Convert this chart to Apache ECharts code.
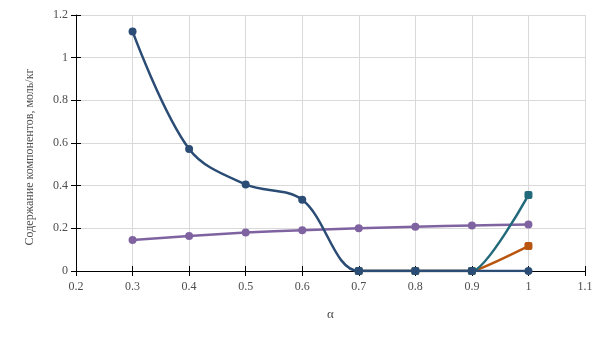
<!DOCTYPE html>
<html>
<head>
<meta charset="utf-8">
<script src="https://cdn.jsdelivr.net/npm/echarts@6/dist/echarts.min.js"></script>
<style>html,body{margin:0;padding:0;background:#fff}#c{width:605px;height:340px}</style>
</head>
<body>
<div id="c"></div>
<script>
var alphaAll = [0.3, 0.4, 0.5, 0.6, 0.7, 0.8, 0.9, 1.0];
var darkValues = [1.123, 0.572, 0.406, 0.334, 0, 0, 0, 0];
var purpleValues = [0.145, 0.164, 0.18, 0.191, 0.2, 0.208, 0.213, 0.218];
var alphaTail = [0.7, 0.8, 0.9, 1.0];
var tealValues = [0, 0, 0, 0.356];
var orangeValues = [0, 0, 0, 0.117];
var xTicks = [0.2, 0.3, 0.4, 0.5, 0.6, 0.7, 0.8, 0.9, 1.0, 1.1];
var yTicks = [0, 0.2, 0.4, 0.6, 0.8, 1, 1.2];
var yTitle = 'Содержание компонентов, моль/кг';
var xTitle = 'α';

function pairs(xs, ys) { return xs.map(function (x, i) { return [x, ys[i]]; }); }

var font = '"Liberation Serif", "DejaVu Serif", serif';
var labelColor = '#4d4d4d';
var chart = echarts.init(document.getElementById('c'));
function mkSeries(name, xs, ys, color, sym, z, sm) {
  return {
    name: name, type: 'line', smooth: sm, data: pairs(xs, ys),
    symbol: sym, symbolSize: 8, showSymbol: true,
    lineStyle: { color: color, width: 2.5 },
    itemStyle: { color: color },
    z: z, animation: false
  };
}
chart.setOption({
  animation: false,
  grid: { left: 76, right: 20, top: 15, bottom: 69 },
  graphic: [{
    type: 'text', x: 30, y: 157, rotation: Math.PI / 2,
    style: { text: yTitle, font: '12px ' + font, fill: labelColor, textAlign: 'center', textVerticalAlign: 'middle' }
  }],
  xAxis: [{
    type: 'value', min: xTicks[0], max: xTicks[xTicks.length - 1], interval: 0.1,
    name: xTitle, nameLocation: 'middle', nameGap: 37,
    nameTextStyle: { fontFamily: font, fontSize: 13, color: labelColor },
    axisLine: { show: true, lineStyle: { color: '#000', width: 1 } },
    axisTick: { show: true, length: 5, lineStyle: { color: '#000' } },
    axisLabel: { fontFamily: font, fontSize: 12, color: labelColor, margin: 10,
      formatter: function (v) { return String(Math.round(v * 10) / 10); } },
    splitLine: { show: true, lineStyle: { color: '#d9d9d9', width: 1 } }
  }, {
    type: 'value', position: 'bottom', min: xTicks[0], max: xTicks[xTicks.length - 1], interval: 0.1,
    axisLine: { show: false }, axisLabel: { show: false }, splitLine: { show: false },
    axisTick: { show: true, inside: true, length: 5, lineStyle: { color: '#000' } }
  }],
  yAxis: [{
    type: 'value', min: 0, max: 1.2, interval: 0.2,
    axisLine: { show: true, lineStyle: { color: '#000', width: 1 } },
    axisTick: { show: true, length: 5, lineStyle: { color: '#000' } },
    axisLabel: { fontFamily: font, fontSize: 12, color: labelColor, margin: 8,
      formatter: function (v) { return String(Math.round(v * 10) / 10); } },
    splitLine: { show: true, lineStyle: { color: '#d9d9d9', width: 1 } }
  }, {
    type: 'value', position: 'left', min: 0, max: 1.2, interval: 0.2,
    axisLine: { show: false }, axisLabel: { show: false }, splitLine: { show: false },
    axisTick: { show: true, inside: true, length: 5, lineStyle: { color: '#000' } }
  }],
  series: [
    mkSeries('purple', alphaAll, purpleValues, '#7f63a1', 'circle', 2, 0.3),
    mkSeries('orange', alphaTail, orangeValues, '#b8550f', 'roundRect', 3, 0.1),
    mkSeries('teal', alphaTail, tealValues, '#226a7b', 'roundRect', 4, 0.2),
    mkSeries('dark', alphaAll, darkValues, '#2b4c74', 'circle', 5, 0.35)
  ]
});
</script>
</body>
</html>
